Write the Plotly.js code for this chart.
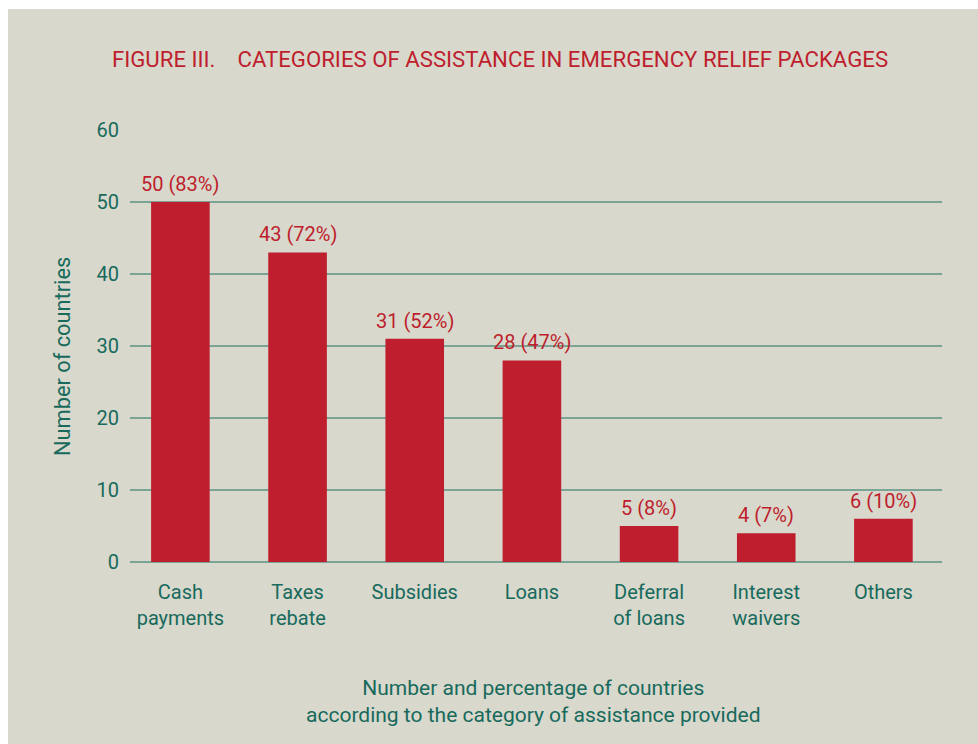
<!DOCTYPE html>
<html>
<head>
<meta charset="utf-8">
<script src="https://cdn.plot.ly/plotly-3.0.1.min.js"></script>
<style>
html,body{margin:0;padding:0;background:#ffffff;}
#chart{position:absolute;left:8px;top:9px;width:970px;height:735px;}
</style>
</head>
<body>
<div id="chart"></div>
<script>
const categories = ["Cash<br>payments", "Taxes<br>rebate", "Subsidies", "Loans", "Deferral<br>of loans", "Interest<br>waivers", "Others"];
const counts = [50, 43, 31, 28, 5, 4, 6];
const percents = [83, 72, 52, 47, 8, 7, 10];
const yTicks = [0, 10, 20, 30, 40, 50, 60];

const RED = "#be1e2d";
const TEAL = "#176a5c";
const BG = "#d8d8cc";
const FONT = "Roboto, 'DejaVu Sans', sans-serif";

const labels = counts.map((c, i) => c + " (" + percents[i] + "%)");

const trace = {
  type: "bar",
  x: categories,
  y: counts,
  marker: {color: RED},
  width: 0.5,
  hoverinfo: "skip"
};

const annotations = categories.map((c, i) => ({
  x: c, y: counts[i], xref: "x", yref: "y",
  text: labels[i], showarrow: false,
  yanchor: "bottom", yshift: 4,
  font: {family: FONT, size: 20, color: RED}
}));

annotations.push({
  xref: "paper", yref: "paper",
  x: (533 - 130) / 812, y: (562 - 701) / 432,
  text: "Number and percentage of countries<br>according to the category of assistance provided",
  showarrow: false, xanchor: "center", yanchor: "middle",
  font: {family: FONT, size: 21, color: TEAL}
});

annotations.push({
  xref: "paper", yref: "paper",
  x: (62 - 130) / 812, y: (562 - 357) / 432,
  text: "Number of countries", textangle: -90,
  showarrow: false, xanchor: "center", yanchor: "middle",
  font: {family: FONT, size: 21.8, color: TEAL}
});

const layout = {
  width: 970, height: 735,
  paper_bgcolor: BG, plot_bgcolor: BG,
  margin: {l: 122, r: 36, t: 121, b: 182},
  showlegend: false,
  title: {
    text: "FIGURE III.&nbsp;&nbsp;&nbsp;&nbsp;CATEGORIES OF ASSISTANCE IN EMERGENCY RELIEF PACKAGES",
    font: {family: FONT, size: 22.2, color: RED},
    x: (500 - 8) / 970, xanchor: "center",
    y: 1 - (59 - 9) / 735, yanchor: "middle"
  },
  xaxis: {
    type: "category",
    range: [-0.43, 6.5],
    showgrid: false, zeroline: false, showline: false,
    ticks: "", ticklabelstandoff: 16,
    tickfont: {family: FONT, size: 20, color: TEAL},
    fixedrange: true
  },
  yaxis: {
    range: [0, 60],
    tickvals: yTicks,
    showgrid: true, gridcolor: "#7aa596", gridwidth: 1.3,
    zeroline: true, zerolinecolor: "#7aa596", zerolinewidth: 1.3,
    showline: false, ticks: "", ticklabelstandoff: 10,
    tickfont: {family: FONT, size: 20, color: TEAL},
    fixedrange: true
  },
  annotations: annotations,
  font: {family: FONT}
};

Plotly.newPlot("chart", [trace], layout, {displayModeBar: false, staticPlot: true});
</script>
</body>
</html>
